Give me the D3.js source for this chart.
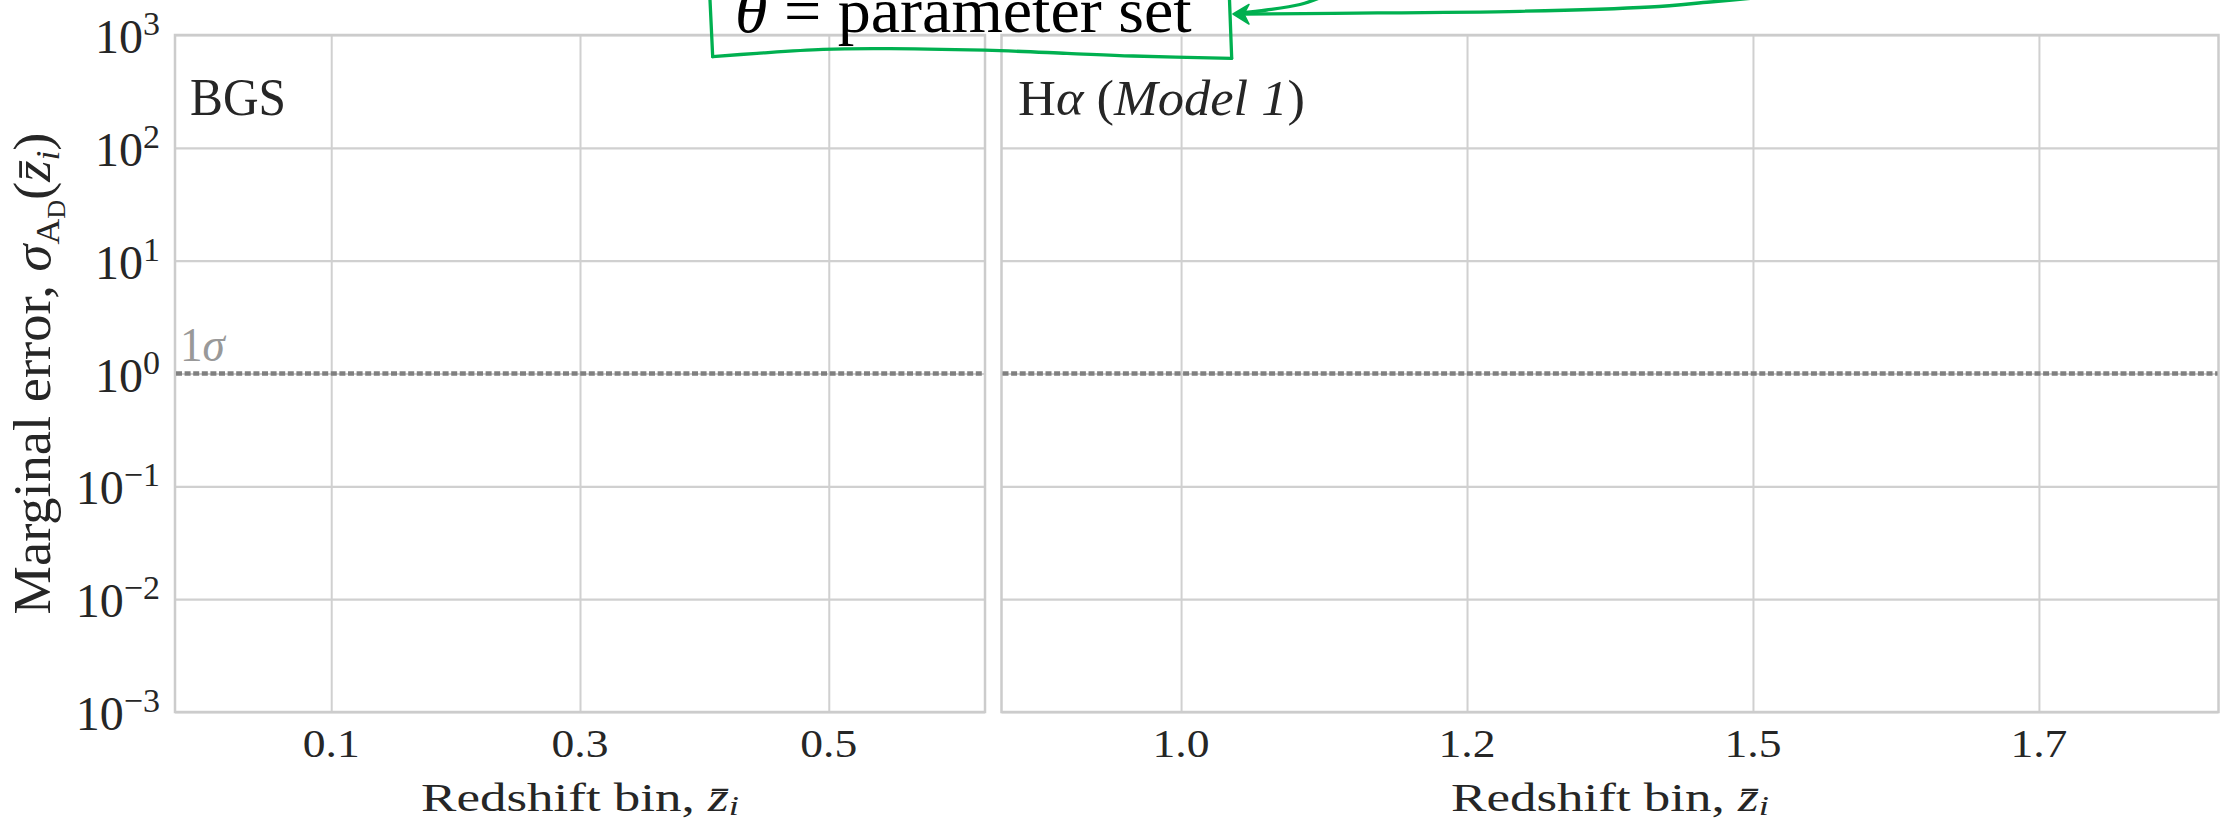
<!DOCTYPE html>
<html><head><meta charset="utf-8">
<script src="https://cdn.jsdelivr.net/npm/d3@7"></script>
<style>html,body{margin:0;padding:0;background:#fff;} svg{display:block;}</style>
</head><body>
<script>
// ---- data ----
const yExponents = [-3, -2, -1, 0, 1, 2, 3];
const bgsBins = ["0.1", "0.3", "0.5"];
const haBins = ["1.0", "1.2", "1.5", "1.7"];
const sigmaLevels = [1];
const bgsTitle = [{t: "BGS"}];
const haTitle = [{t: "H"}, {t: "α", i: true}, {t: " ("}, {t: "Model 1", i: true}, {t: ")"}];
const annotationText = [{t: "θ", i: true}, {t: " = parameter set"}];

// ---- layout ----
const W = 2229, H = 822;
const TOP = 35, BOTTOM = 712;
const FONT = "'Liberation Serif','Times New Roman',serif";
const INK = "#262626";
const GRID = "#d0d0d0";
const GREEN = "#00b050";

const svg = d3.select("body").append("svg").attr("width", W).attr("height", H)
  .style("background", "#fff");

const y = d3.scaleLog().domain([1e-3, 1e3]).range([BOTTOM, TOP]);

function fitX(sel, target, ax) {
  const w = sel.node().getBBox().width;
  const s = target / w;
  sel.attr("transform", `translate(${ax},0) scale(${s},1) translate(${-ax},0)`);
}
function addSegs(textSel, segs) {
  segs.forEach(s => {
    const ts = textSel.append("tspan").text(s.t);
    if (s.i) ts.attr("font-style", "italic");
  });
}

const panels = [
  {bins: bgsBins, x0: 175, x1: 985, title: bgsTitle, titleX: 190, titleSize: 52, titleW: 96},
  {bins: haBins, x0: 1001.5, x1: 2218.5, title: haTitle, titleX: 1018, titleSize: 50, titleW: 287}
];

panels.forEach((p, pi) => {
  const x = d3.scalePoint().domain(p.bins).range([p.x0, p.x1]).padding(0.628);
  const g = svg.append("g");

  // vertical grid
  g.append("g").attr("transform", `translate(0,${BOTTOM})`)
    .call(d3.axisBottom(x).tickSize(-(BOTTOM - TOP)).tickFormat(""))
    .call(a => {
      a.select(".domain").remove();
      a.selectAll("line").attr("stroke", GRID).attr("stroke-width", 2);
    });
  // horizontal grid
  g.append("g").attr("transform", `translate(${p.x0},0)`)
    .call(d3.axisLeft(y).tickValues(yExponents.map(e => Math.pow(10, e)))
      .tickSize(-(p.x1 - p.x0)).tickFormat(""))
    .call(a => {
      a.select(".domain").remove();
      a.selectAll("line").attr("stroke", GRID).attr("stroke-width", 2.2);
    });
  // frame
  g.append("rect").attr("x", p.x0).attr("y", TOP)
    .attr("width", p.x1 - p.x0).attr("height", BOTTOM - TOP)
    .attr("fill", "none").attr("stroke", "#cccccc").attr("stroke-width", 2.5);

  // 1 sigma dotted line
  g.selectAll("line.sig").data(sigmaLevels).join("line").attr("class", "sig")
    .attr("x1", p.x0 + 1).attr("x2", p.x1 - 1)
    .attr("y1", d => y(d)).attr("y2", d => y(d))
    .attr("stroke", "#808080").attr("stroke-width", 4.3)
    .attr("stroke-dasharray", "6 2.6");

  // x tick labels
  p.bins.forEach(b => {
    const cx = x(b);
    g.append("text").attr("x", cx).attr("y", 757)
      .attr("text-anchor", "middle").attr("font-family", FONT)
      .attr("font-size", 40).attr("fill", INK)
      .attr("transform", `translate(${cx},0) scale(1.14,1) translate(${-cx},0)`)
      .text(b);
  });

  // x axis label
  const cxl = (p.x0 + p.x1) / 2;
  const xl = g.append("text").attr("x", cxl).attr("y", 811)
    .attr("text-anchor", "middle").attr("font-family", FONT)
    .attr("font-size", 39).attr("fill", INK);
  xl.append("tspan").text("Redshift bin, ");
  xl.append("tspan").attr("font-style", "italic").text("z\u0304");
  xl.append("tspan").attr("font-style", "italic").attr("font-size", 27).attr("dy", 4).text("i");
  fitX(xl, 318, cxl);

  // panel title
  const tt = g.append("text").attr("x", p.titleX).attr("y", 115)
    .attr("font-family", FONT).attr("font-size", p.titleSize).attr("fill", INK);
  addSegs(tt, p.title);
  fitX(tt, p.titleW, p.titleX);

  if (pi === 0) {
    // y tick labels
    yExponents.forEach(e => {
      const yy = y(Math.pow(10, e));
      const t = g.append("text").attr("x", 160).attr("y", yy + 18)
        .attr("text-anchor", "end").attr("font-family", FONT)
        .attr("font-size", 48).attr("fill", INK);
      t.append("tspan").text("10");
      t.append("tspan").attr("font-size", 34).attr("dy", -18)
        .text(e < 0 ? "\u2212" + Math.abs(e) : String(e));
    });
    // 1 sigma label
    sigmaLevels.forEach(v => {
      const s = g.append("text").attr("x", 180).attr("y", y(v) - 12)
        .attr("font-family", FONT).attr("font-size", 48).attr("fill", "#999999");
      s.append("tspan").text("1");
      s.append("tspan").attr("font-style", "italic").text("σ");
      fitX(s, 47, 180);
    });
  }
});

// y axis label
const yg = svg.append("g").attr("transform", `translate(50,${(TOP + BOTTOM) / 2}) rotate(-90)`);
const yl = yg.append("text").attr("x", 0).attr("y", 0).attr("text-anchor", "middle")
  .attr("font-family", FONT).attr("font-size", 52).attr("fill", INK);
yl.append("tspan").text("Marginal error, ");
yl.append("tspan").attr("font-style", "italic").text("σ");
yl.append("tspan").attr("font-size", 34).attr("dy", 9).text("A");
yl.append("tspan").attr("font-size", 25).attr("dy", 6).text("D");
yl.append("tspan").attr("dy", -15).text("(");
yl.append("tspan").attr("font-style", "italic").text("z\u0304");
yl.append("tspan").attr("font-style", "italic").attr("font-size", 34).attr("dy", 9).text("i");
yl.append("tspan").attr("dy", -9).text(")");
fitX(yl, 482, 0);

// ---- annotation ----
const ann = svg.append("g");
const at = ann.append("text").attr("x", 735).attr("y", 32)
  .attr("font-family", FONT).attr("font-size", 64).attr("fill", "#000");
addSegs(at, annotationText);
fitX(at, 457, 735);

const lineC = d3.line().curve(d3.curveCatmullRom.alpha(0.5));
const lineL = d3.line();
const boxRight = [[1229, -6], [1229.5, 0], [1231.7, 58.3]];
const boxBottom = [[1231.7, 58.3], [1133, 56], [1067, 53.3], [1000, 50.7], [890, 48.7], [823, 49.3], [757, 53.3], [712.7, 56.7]];
const boxLeft = [[712.7, 56.7], [710, 0], [709.8, -6]];
const shaftLong = [[1244, 14], [1333, 13.3], [1520, 11.3], [1650, 7], [1710, 2], [1765, -3]];
const shaftShort = [[1240, 13], [1266.7, 10], [1300, 4.5], [1322, -3]];
[boxRight, boxLeft].forEach(pts => ann.append("path").attr("d", lineL(pts)));
[boxBottom, shaftLong, shaftShort].forEach(pts => ann.append("path").attr("d", lineC(pts)));
ann.selectAll("path").attr("fill", "none").attr("stroke", GREEN)
  .attr("stroke-width", 3.3).attr("stroke-linecap", "round").attr("stroke-linejoin", "round");
const head = [[1233, 14], [1249, 4.5], [1244, 14], [1249, 24]];
ann.append("path").attr("d", lineL(head) + "Z").attr("fill", GREEN).attr("stroke", GREEN)
  .attr("stroke-width", 1.5).attr("stroke-linejoin", "round");
</script>
</body></html>
